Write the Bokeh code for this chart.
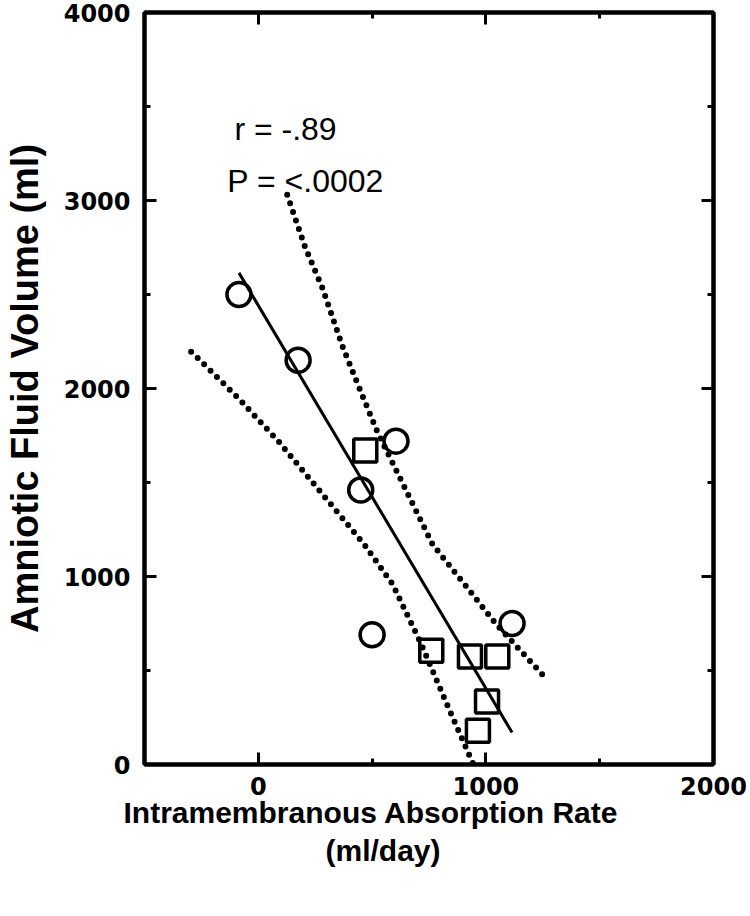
from bokeh.plotting import figure
from bokeh.models import LinearAxis, FixedTicker, Label, CustomJSTickFormatter, Range1d, Title
from bokeh.embed import file_html
from bokeh.resources import INLINE

# ---- data ----
circle_x = [-85, 175, 605, 450, 500, 1115]
circle_y = [2500, 2150, 1720, 1460, 690, 750]
square_x = [470, 760, 930, 1050, 1005, 965]
square_y = [1670, 605, 575, 575, 335, 180]

fit_x = [-85, 1115]
fit_y = [2615, 170]

upper_x = [127, 206, 283, 370, 458, 524, 766, 883, 1044, 1264]
upper_y = [3030, 2751, 2531, 2224, 1960, 1767, 1170, 994, 748, 458]
lower_x = [-295, -259, -83, 92, 466, 590, 715, 839, 945]
lower_y = [2195, 2154, 1943, 1714, 1170, 959, 643, 291, 0]

x_major = [0, 1000, 2000]
x_minor = [-500, 500, 1500]
y_major = [0, 1000, 2000, 3000, 4000]
y_minor = [500, 1500, 2500, 3500]

x_title_1 = "Intramembranous Absorption Rate"
x_title_2 = "(ml/day)"
y_title = "Amniotic Fluid Volume (ml)"
stat_r = "r = -.89"
stat_p = "P = <.0002"

p = figure(output_backend="svg", toolbar_location=None,
           frame_width=569, frame_height=752,
           x_range=Range1d(-500, 2000), y_range=Range1d(0, 4000),
           min_border_left=137, min_border_right=34,
           min_border_top=12, min_border_bottom=20,
           background_fill_color="white", border_fill_color="white")
p.grid.visible = False
p.outline_line_color = "black"
p.outline_line_width = 4

def style_axis(ax, ticks, minor, labels=True):
    ax.ticker = FixedTicker(ticks=ticks, minor_ticks=minor)
    ax.axis_line_color = "black"
    ax.axis_line_width = 4
    ax.major_tick_in = 12
    ax.major_tick_out = 0
    ax.minor_tick_in = 6
    ax.minor_tick_out = 0
    ax.major_tick_line_width = 3
    ax.minor_tick_line_width = 3
    ax.major_tick_line_color = "black"
    ax.minor_tick_line_color = "black"
    if not labels:
        ax.formatter = CustomJSTickFormatter(code="return ''")

xa = p.xaxis[0]
ya = p.yaxis[0]
style_axis(xa, x_major, x_minor)
style_axis(ya, y_major, y_minor)
for ax in (xa, ya):
    ax.major_label_text_font = "DejaVu Sans"
    ax.major_label_text_font_style = "bold"
    ax.major_label_text_font_size = "24px"
    ax.major_label_text_color = "black"
xa.major_label_standoff = 12
xa.axis_label_standoff = 0
ya.major_label_standoff = 14
ya.axis_label = y_title
ya.axis_label_text_font = "Liberation Sans"
ya.axis_label_text_font_style = "bold"
ya.axis_label_text_font_size = "38px"
ya.axis_label_text_color = "black"
ya.axis_label_standoff = 15

top = LinearAxis()
style_axis(top, x_major, x_minor, labels=False)
p.add_layout(top, "above")
right = LinearAxis()
style_axis(right, y_major, y_minor, labels=False)
p.add_layout(right, "right")
top.major_label_standoff = 0
right.major_label_standoff = 0

# x-axis title: two lines, set slightly left of the frame centre as in the reference
t1 = Title(text=x_title_1, align="left", offset=-21, standoff=-8,
           text_font="Liberation Sans", text_font_style="bold",
           text_font_size="30px", text_color="black")
t2 = Title(text=x_title_2, align="left", offset=181, standoff=14,
           text_font="Liberation Sans", text_font_style="bold",
           text_font_size="30px", text_color="black")
p.add_layout(t1, "below")
p.add_layout(t2, "below")

p.line(fit_x, fit_y, line_color="black", line_width=3)
p.line(upper_x, upper_y, line_color="black", line_width=6, line_dash="0 9", line_cap="round")
p.line(lower_x, lower_y, line_color="black", line_width=6, line_dash="0 9", line_cap="round")

p.scatter(circle_x, circle_y, marker="circle", size=24, fill_color=None,
          line_color="black", line_width=3.5)
p.scatter(square_x, square_y, marker="square", size=23, fill_color=None,
          line_color="black", line_width=3.5)

p.add_layout(Label(x=-105, y=3378, text=stat_r, text_font="Liberation Sans",
                   text_font_size="32px", text_color="black",
                   text_baseline="alphabetic"))
p.add_layout(Label(x=-136, y=3106, text=stat_p, text_font="Liberation Sans",
                   text_font_size="32px", text_color="black",
                   text_baseline="alphabetic"))

open("out.html", "w").write(file_html(p, INLINE))
